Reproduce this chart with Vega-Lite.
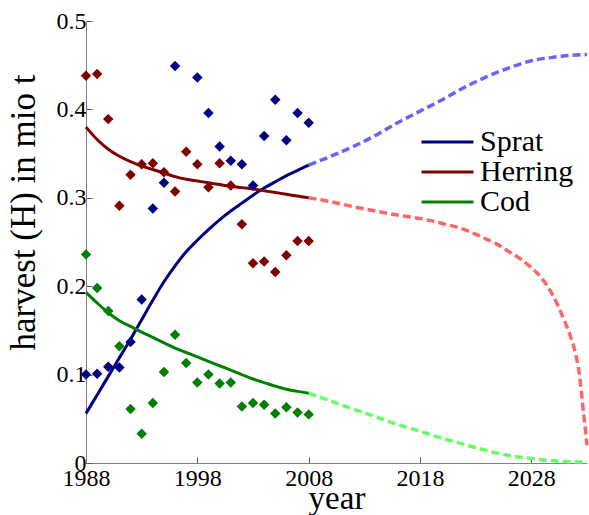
{
  "$schema": "https://vega.github.io/schema/vega-lite/v6.json",
  "width": 501,
  "height": 442,
  "autosize": {"type": "none"},
  "padding": {"left": 86, "top": 21, "right": 2, "bottom": 52},
  "background": "white",
  "config": {"view": {"stroke": null}, "font": "Liberation Serif"},
  "datasets": {
    "fit": [
      {"species": "Sprat", "year": 1988, "harvest": 0.056},
      {"species": "Sprat", "year": 1989, "harvest": 0.077},
      {"species": "Sprat", "year": 1990, "harvest": 0.098},
      {"species": "Sprat", "year": 1991, "harvest": 0.119},
      {"species": "Sprat", "year": 1992, "harvest": 0.140},
      {"species": "Sprat", "year": 1993, "harvest": 0.162},
      {"species": "Sprat", "year": 1994, "harvest": 0.184},
      {"species": "Sprat", "year": 1995, "harvest": 0.205},
      {"species": "Sprat", "year": 1996, "harvest": 0.223},
      {"species": "Sprat", "year": 1997, "harvest": 0.239},
      {"species": "Sprat", "year": 1998, "harvest": 0.252},
      {"species": "Sprat", "year": 1999, "harvest": 0.264},
      {"species": "Sprat", "year": 2000, "harvest": 0.275},
      {"species": "Sprat", "year": 2001, "harvest": 0.285},
      {"species": "Sprat", "year": 2002, "harvest": 0.294},
      {"species": "Sprat", "year": 2003, "harvest": 0.303},
      {"species": "Sprat", "year": 2004, "harvest": 0.311},
      {"species": "Sprat", "year": 2005, "harvest": 0.318},
      {"species": "Sprat", "year": 2006, "harvest": 0.325},
      {"species": "Sprat", "year": 2007, "harvest": 0.331},
      {"species": "Sprat", "year": 2008, "harvest": 0.337},
      {"species": "Herring", "year": 1988, "harvest": 0.380},
      {"species": "Herring", "year": 1989, "harvest": 0.366},
      {"species": "Herring", "year": 1990, "harvest": 0.355},
      {"species": "Herring", "year": 1991, "harvest": 0.347},
      {"species": "Herring", "year": 1992, "harvest": 0.341},
      {"species": "Herring", "year": 1993, "harvest": 0.336},
      {"species": "Herring", "year": 1994, "harvest": 0.332},
      {"species": "Herring", "year": 1995, "harvest": 0.328},
      {"species": "Herring", "year": 1996, "harvest": 0.324},
      {"species": "Herring", "year": 1997, "harvest": 0.321},
      {"species": "Herring", "year": 1998, "harvest": 0.319},
      {"species": "Herring", "year": 1999, "harvest": 0.317},
      {"species": "Herring", "year": 2000, "harvest": 0.315},
      {"species": "Herring", "year": 2001, "harvest": 0.313},
      {"species": "Herring", "year": 2002, "harvest": 0.3115},
      {"species": "Herring", "year": 2003, "harvest": 0.310},
      {"species": "Herring", "year": 2004, "harvest": 0.308},
      {"species": "Herring", "year": 2005, "harvest": 0.306},
      {"species": "Herring", "year": 2006, "harvest": 0.304},
      {"species": "Herring", "year": 2007, "harvest": 0.302},
      {"species": "Herring", "year": 2008, "harvest": 0.300},
      {"species": "Cod", "year": 1988, "harvest": 0.193},
      {"species": "Cod", "year": 1989, "harvest": 0.181},
      {"species": "Cod", "year": 1990, "harvest": 0.170},
      {"species": "Cod", "year": 1991, "harvest": 0.161},
      {"species": "Cod", "year": 1992, "harvest": 0.1545},
      {"species": "Cod", "year": 1993, "harvest": 0.148},
      {"species": "Cod", "year": 1994, "harvest": 0.142},
      {"species": "Cod", "year": 1995, "harvest": 0.136},
      {"species": "Cod", "year": 1996, "harvest": 0.130},
      {"species": "Cod", "year": 1997, "harvest": 0.125},
      {"species": "Cod", "year": 1998, "harvest": 0.120},
      {"species": "Cod", "year": 1999, "harvest": 0.115},
      {"species": "Cod", "year": 2000, "harvest": 0.110},
      {"species": "Cod", "year": 2001, "harvest": 0.105},
      {"species": "Cod", "year": 2002, "harvest": 0.100},
      {"species": "Cod", "year": 2003, "harvest": 0.095},
      {"species": "Cod", "year": 2004, "harvest": 0.091},
      {"species": "Cod", "year": 2005, "harvest": 0.087},
      {"species": "Cod", "year": 2006, "harvest": 0.0835},
      {"species": "Cod", "year": 2007, "harvest": 0.081},
      {"species": "Cod", "year": 2008, "harvest": 0.079}
    ],
    "pred": [
      {"species": "Sprat", "year": 2008, "harvest": 0.337},
      {"species": "Sprat", "year": 2010, "harvest": 0.347},
      {"species": "Sprat", "year": 2012, "harvest": 0.358},
      {"species": "Sprat", "year": 2014, "harvest": 0.3705},
      {"species": "Sprat", "year": 2016, "harvest": 0.385},
      {"species": "Sprat", "year": 2018, "harvest": 0.398},
      {"species": "Sprat", "year": 2020, "harvest": 0.411},
      {"species": "Sprat", "year": 2022, "harvest": 0.425},
      {"species": "Sprat", "year": 2024, "harvest": 0.437},
      {"species": "Sprat", "year": 2026, "harvest": 0.447},
      {"species": "Sprat", "year": 2028, "harvest": 0.455},
      {"species": "Sprat", "year": 2030, "harvest": 0.459},
      {"species": "Sprat", "year": 2032, "harvest": 0.4615},
      {"species": "Sprat", "year": 2033, "harvest": 0.462},
      {"species": "Herring", "year": 2008, "harvest": 0.300},
      {"species": "Herring", "year": 2010, "harvest": 0.2955},
      {"species": "Herring", "year": 2012, "harvest": 0.290},
      {"species": "Herring", "year": 2014, "harvest": 0.285},
      {"species": "Herring", "year": 2016, "harvest": 0.2805},
      {"species": "Herring", "year": 2018, "harvest": 0.2765},
      {"species": "Herring", "year": 2020, "harvest": 0.271},
      {"species": "Herring", "year": 2022, "harvest": 0.264},
      {"species": "Herring", "year": 2024, "harvest": 0.253},
      {"species": "Herring", "year": 2025, "harvest": 0.247},
      {"species": "Herring", "year": 2026, "harvest": 0.239},
      {"species": "Herring", "year": 2027, "harvest": 0.231},
      {"species": "Herring", "year": 2028, "harvest": 0.221},
      {"species": "Herring", "year": 2029, "harvest": 0.208},
      {"species": "Herring", "year": 2029.5, "harvest": 0.199},
      {"species": "Herring", "year": 2030, "harvest": 0.188},
      {"species": "Herring", "year": 2030.5, "harvest": 0.175},
      {"species": "Herring", "year": 2031, "harvest": 0.160},
      {"species": "Herring", "year": 2031.5, "harvest": 0.144},
      {"species": "Herring", "year": 2032, "harvest": 0.122},
      {"species": "Herring", "year": 2032.3, "harvest": 0.102},
      {"species": "Herring", "year": 2032.5, "harvest": 0.080},
      {"species": "Herring", "year": 2032.7, "harvest": 0.055},
      {"species": "Herring", "year": 2032.85, "harvest": 0.038},
      {"species": "Herring", "year": 2033, "harvest": 0.020},
      {"species": "Cod", "year": 2008, "harvest": 0.079},
      {"species": "Cod", "year": 2010, "harvest": 0.070},
      {"species": "Cod", "year": 2012, "harvest": 0.061},
      {"species": "Cod", "year": 2014, "harvest": 0.0525},
      {"species": "Cod", "year": 2016, "harvest": 0.0435},
      {"species": "Cod", "year": 2018, "harvest": 0.036},
      {"species": "Cod", "year": 2020, "harvest": 0.028},
      {"species": "Cod", "year": 2022, "harvest": 0.021},
      {"species": "Cod", "year": 2024, "harvest": 0.014},
      {"species": "Cod", "year": 2026, "harvest": 0.0085},
      {"species": "Cod", "year": 2028, "harvest": 0.005},
      {"species": "Cod", "year": 2030, "harvest": 0.0025},
      {"species": "Cod", "year": 2032, "harvest": 0.0012},
      {"species": "Cod", "year": 2033, "harvest": 0.001}
    ],
    "obs": [
      {"species": "Sprat", "year": 1988, "harvest": 0.100},
      {"species": "Sprat", "year": 1989, "harvest": 0.101},
      {"species": "Sprat", "year": 1990, "harvest": 0.109},
      {"species": "Sprat", "year": 1991, "harvest": 0.108},
      {"species": "Sprat", "year": 1992, "harvest": 0.137},
      {"species": "Sprat", "year": 1993, "harvest": 0.185},
      {"species": "Sprat", "year": 1994, "harvest": 0.288},
      {"species": "Sprat", "year": 1995, "harvest": 0.317},
      {"species": "Sprat", "year": 1996, "harvest": 0.449},
      {"species": "Sprat", "year": 1998, "harvest": 0.436},
      {"species": "Sprat", "year": 1999, "harvest": 0.396},
      {"species": "Sprat", "year": 2000, "harvest": 0.358},
      {"species": "Sprat", "year": 2001, "harvest": 0.342},
      {"species": "Sprat", "year": 2002, "harvest": 0.338},
      {"species": "Sprat", "year": 2003, "harvest": 0.314},
      {"species": "Sprat", "year": 2004, "harvest": 0.370},
      {"species": "Sprat", "year": 2005, "harvest": 0.411},
      {"species": "Sprat", "year": 2006, "harvest": 0.365},
      {"species": "Sprat", "year": 2007, "harvest": 0.396},
      {"species": "Sprat", "year": 2008, "harvest": 0.385},
      {"species": "Herring", "year": 1988, "harvest": 0.438},
      {"species": "Herring", "year": 1989, "harvest": 0.440},
      {"species": "Herring", "year": 1990, "harvest": 0.389},
      {"species": "Herring", "year": 1991, "harvest": 0.291},
      {"species": "Herring", "year": 1992, "harvest": 0.326},
      {"species": "Herring", "year": 1993, "harvest": 0.338},
      {"species": "Herring", "year": 1994, "harvest": 0.339},
      {"species": "Herring", "year": 1995, "harvest": 0.329},
      {"species": "Herring", "year": 1996, "harvest": 0.307},
      {"species": "Herring", "year": 1997, "harvest": 0.352},
      {"species": "Herring", "year": 1998, "harvest": 0.338},
      {"species": "Herring", "year": 1999, "harvest": 0.312},
      {"species": "Herring", "year": 2000, "harvest": 0.339},
      {"species": "Herring", "year": 2001, "harvest": 0.314},
      {"species": "Herring", "year": 2002, "harvest": 0.270},
      {"species": "Herring", "year": 2003, "harvest": 0.226},
      {"species": "Herring", "year": 2004, "harvest": 0.228},
      {"species": "Herring", "year": 2005, "harvest": 0.216},
      {"species": "Herring", "year": 2006, "harvest": 0.235},
      {"species": "Herring", "year": 2007, "harvest": 0.251},
      {"species": "Herring", "year": 2008, "harvest": 0.251},
      {"species": "Cod", "year": 1988, "harvest": 0.236},
      {"species": "Cod", "year": 1989, "harvest": 0.198},
      {"species": "Cod", "year": 1990, "harvest": 0.172},
      {"species": "Cod", "year": 1991, "harvest": 0.132},
      {"species": "Cod", "year": 1992, "harvest": 0.061},
      {"species": "Cod", "year": 1993, "harvest": 0.033},
      {"species": "Cod", "year": 1994, "harvest": 0.068},
      {"species": "Cod", "year": 1995, "harvest": 0.103},
      {"species": "Cod", "year": 1996, "harvest": 0.145},
      {"species": "Cod", "year": 1997, "harvest": 0.113},
      {"species": "Cod", "year": 1998, "harvest": 0.091},
      {"species": "Cod", "year": 1999, "harvest": 0.100},
      {"species": "Cod", "year": 2000, "harvest": 0.090},
      {"species": "Cod", "year": 2001, "harvest": 0.091},
      {"species": "Cod", "year": 2002, "harvest": 0.064},
      {"species": "Cod", "year": 2003, "harvest": 0.068},
      {"species": "Cod", "year": 2004, "harvest": 0.066},
      {"species": "Cod", "year": 2005, "harvest": 0.056},
      {"species": "Cod", "year": 2006, "harvest": 0.063},
      {"species": "Cod", "year": 2007, "harvest": 0.057},
      {"species": "Cod", "year": 2008, "harvest": 0.055}
    ]
  },
  "encoding": {
    "x": {
      "field": "year", "type": "quantitative",
      "scale": {"domain": [1988, 2033], "nice": false, "zero": false},
      "axis": {
        "title": "year", "values": [1988, 1998, 2008, 2018, 2028], "format": "d",
        "grid": false, "tickSize": -6, "labelPadding": 9,
        "labelFontSize": 24, "labelFont": "Liberation Serif", "labelColor": "black",
        "labelFlush": false, "labelOverlap": false,
        "titleFontSize": 33, "titleFont": "Liberation Serif", "titleFontWeight": "normal", "titleColor": "black",
        "titleY": 45, "titleBaseline": "alphabetic",
        "domainColor": "#808080", "tickColor": "#555555"
      }
    },
    "y": {
      "field": "harvest", "type": "quantitative",
      "scale": {"domain": [0, 0.5], "nice": false},
      "axis": {
        "title": "harvest (H) in mio t", "values": [0, 0.1, 0.2, 0.3, 0.4, 0.5], "format": "~g",
        "grid": false, "tickSize": -6, "labelPadding": 6,
        "labelFontSize": 24, "labelFont": "Liberation Serif", "labelColor": "black",
        "labelFlush": false, "labelOverlap": false,
        "titleFontSize": 35, "titleFont": "Liberation Serif", "titleFontWeight": "normal", "titleColor": "black",
        "titleX": -52, "titleY": 191, "titleAngle": 270, "titleAlign": "center", "titleBaseline": "alphabetic",
        "domainColor": "#808080", "tickColor": "#555555"
      }
    }
  },
  "layer": [
    {
      "data": {"name": "pred"},
      "mark": {"type": "line", "strokeWidth": 3.5, "strokeDash": [8, 4], "strokeCap": "butt", "interpolate": "monotone"},
      "encoding": {
        "color": {
          "field": "species", "type": "nominal",
          "scale": {"domain": ["Sprat", "Herring", "Cod"], "range": ["#6666ff", "#ff6666", "#66ff66"]},
          "legend": null
        }
      }
    },
    {
      "data": {"name": "fit"},
      "mark": {"type": "line", "strokeWidth": 3, "interpolate": "monotone"},
      "encoding": {
        "color": {
          "field": "species", "type": "nominal",
          "scale": {"domain": ["Sprat", "Herring", "Cod"], "range": ["#000080", "#800000", "#008000"]},
          "legend": {
            "title": null, "orient": "none", "legendX": 334, "legendY": 107,
            "labelFontSize": 30, "labelFont": "Liberation Serif", "labelColor": "black",
            "symbolType": "stroke", "symbolSize": 2700, "symbolStrokeWidth": 3,
            "labelOffset": 5, "rowPadding": 0, "clipHeight": 28, "padding": 0
          }
        }
      }
    },
    {
      "data": {"name": "obs"},
      "mark": {"type": "point", "shape": "diamond", "filled": true, "size": 110, "opacity": 1},
      "encoding": {
        "color": {
          "field": "species", "type": "nominal",
          "scale": {"domain": ["Sprat", "Herring", "Cod"], "range": ["#000080", "#800000", "#008000"]},
          "legend": null
        }
      }
    }
  ],
  "resolve": {"scale": {"color": "independent"}}
}
